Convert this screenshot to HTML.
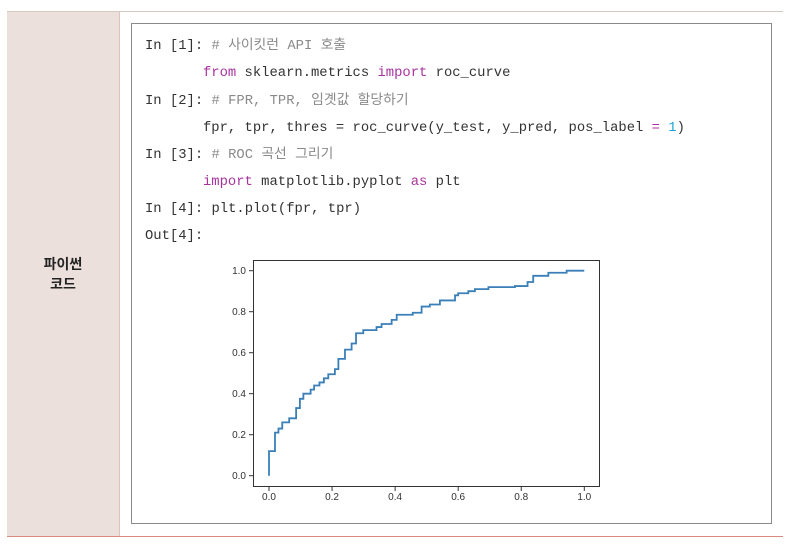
<!DOCTYPE html>
<html><head><meta charset="utf-8"><style>
body{margin:0;width:793px;height:550px;background:#fff;position:relative;overflow:hidden;font-family:"Liberation Sans","Noto Sans CJK KR",sans-serif}
.abs{position:absolute}
.code{position:absolute;font-family:"Liberation Mono","Noto Sans CJK KR",monospace;font-size:13.85px;color:#333;white-space:pre;line-height:16px}
.c{color:#8a8a8a}.k{color:#a8329e}.n{color:#1aa3d9}
</style></head><body>
<div class="abs" style="left:7px;top:11px;width:776px;height:1px;background:#d9c7c2"></div>
<div class="abs" style="left:7px;top:12px;width:112px;height:525px;background:#ece0dc;border-right:1px solid #dcc4bd"></div>
<div class="abs" style="left:7px;top:536px;width:776px;height:1px;background:#d98b80"></div>
<div class="abs" style="left:7px;top:254px;width:112px;text-align:center;font-weight:bold;font-size:14px;line-height:20px;color:#222">파이썬<br>코드</div>
<div class="abs" style="left:131px;top:23px;width:639px;height:499px;border:1px solid #8a8a8a"></div>
<div class="code" style="left:145px;top:38px">In [1]: <span class="c"># 사이킷런 API 호출</span></div>
<div class="code" style="left:203px;top:65px"><span class="k">from</span> sklearn.metrics <span class="k">import</span> roc_curve</div>
<div class="code" style="left:145px;top:93px">In [2]: <span class="c"># FPR, TPR, 임곗값 할당하기</span></div>
<div class="code" style="left:203px;top:120px">fpr, tpr, thres = roc_curve(y_test, y_pred, pos_label <span class="k">=</span> <span class="n">1</span>)</div>
<div class="code" style="left:145px;top:147px">In [3]: <span class="c"># ROC 곡선 그리기</span></div>
<div class="code" style="left:203px;top:174px"><span class="k">import</span> matplotlib.pyplot <span class="k">as</span> plt</div>
<div class="code" style="left:145px;top:201px">In [4]: plt.plot(fpr, tpr)</div>
<div class="code" style="left:145px;top:228px">Out[4]:</div>
<svg id="chart" class="abs" style="left:0;top:0" width="793" height="550"></svg>
<script>
const fprVals=[0,0,0.019,0.03,0.042,0.064,0.086,0.098,0.109,0.132,0.143,0.16,0.174,0.188,0.209,0.22,0.241,0.262,0.276,0.299,0.341,0.357,0.389,0.405,0.456,0.484,0.51,0.542,0.59,0.6,0.632,0.653,0.696,0.78,0.82,0.838,0.886,0.944,1.0];
const tprVals=[0,0.12,0.21,0.23,0.26,0.28,0.33,0.375,0.40,0.42,0.44,0.455,0.475,0.495,0.52,0.57,0.615,0.645,0.695,0.71,0.725,0.74,0.76,0.785,0.795,0.825,0.835,0.855,0.88,0.89,0.9,0.91,0.92,0.925,0.945,0.975,0.99,1.0,1.0];
const xTicks=[0,0.2,0.4,0.6,0.8,1.0];
const yTicks=[0,0.2,0.4,0.6,0.8,1.0];
const NS="http://www.w3.org/2000/svg";
const svg=document.getElementById('chart');
const X=v=>269+v*315.3, Y=v=>475.7-v*205;
function mk(t,a){const e=document.createElementNS(NS,t);for(const k in a)e.setAttribute(k,a[k]);svg.appendChild(e);return e;}
const frame=mk('rect',{x:253.5,y:260.5,width:346,height:226,fill:'none',stroke:'#333','stroke-width':1});


xTicks.forEach(v=>{
 const l=mk('line',{x1:X(v),x2:X(v),y1:487,y2:491,stroke:'#333'});
 
 
 const t=mk('text',{x:X(v),y:500,'text-anchor':'middle','font-size':10,fill:'#333','font-family':'Liberation Sans, sans-serif'});
 t.textContent=v.toFixed(1);
 
 
});
yTicks.forEach(v=>{
 const l=mk('line',{x1:249,x2:253,y1:Y(v),y2:Y(v),stroke:'#333'});
 
 
 const t=mk('text',{x:246,y:Y(v)+3.5,'text-anchor':'end','font-size':10,fill:'#333','font-family':'Liberation Sans, sans-serif'});
 t.textContent=v.toFixed(1);
 
 
});
let d='M'+X(fprVals[0])+' '+Y(tprVals[0]);
for(let i=1;i<fprVals.length;i++){d+=' H'+X(fprVals[i])+' V'+Y(tprVals[i]);}
const p=mk('path',{d:d,fill:'none',stroke:'#3a7fb8','stroke-width':1.8});


</script>
</body></html>
